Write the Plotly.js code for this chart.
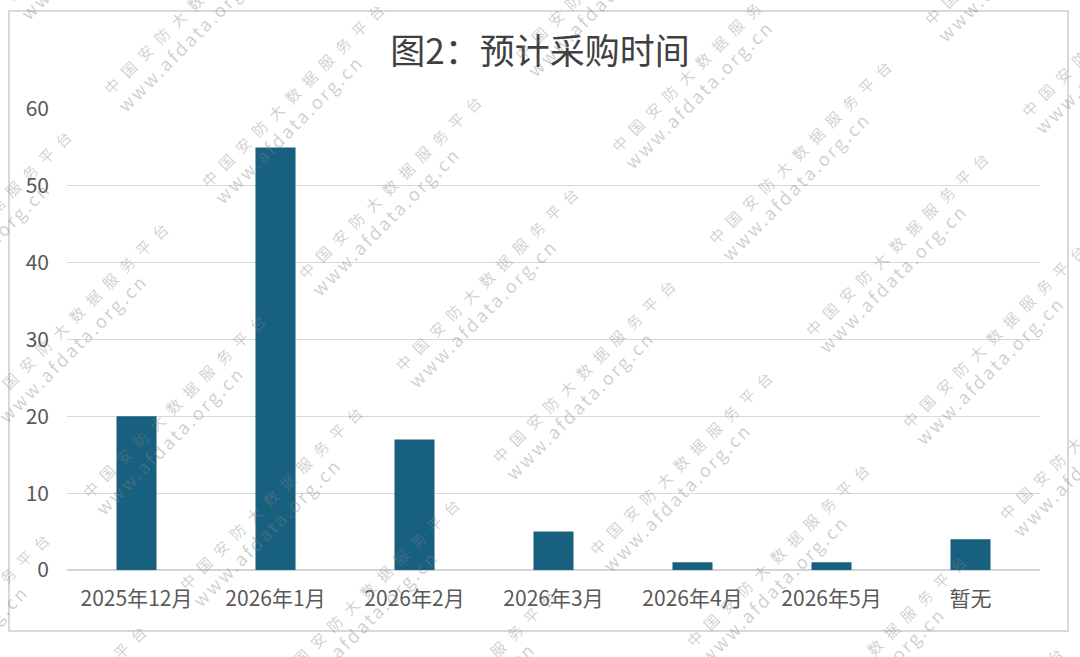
<!DOCTYPE html>
<html>
<head>
<meta charset="utf-8">
<script src="https://cdn.plot.ly/plotly-3.0.1.min.js"></script>
<style>
  html, body { margin: 0; padding: 0; background: #ffffff; }
  #chart { width: 1080px; height: 657px; }
  .annotation-text[style*="font-size: 15px"] { letter-spacing: 8.5px; }
  .annotation-text[style*="font-size: 18px"] { letter-spacing: 2.5px; }
</style>
</head>
<body>
<div id="chart"></div>
<script>
// ---- data ----
const categories = ['2025年12月', '2026年1月', '2026年2月', '2026年3月', '2026年4月', '2026年5月', '暂无'];
const values = [20, 55, 17, 5, 1, 1, 4];
const yTicks = [0, 10, 20, 30, 40, 50, 60];
const titleText = '图2：预计采购时间';
const watermarkLine1 = '中国安防大数据服务平台';
const watermarkLine2 = 'www.afdata.org.cn';

// ---- layout helpers ----
const W = 1080, H = 657;
const M = { l: 67, r: 40, t: 109, b: 87 };
const PW = W - M.l - M.r, PH = H - M.t - M.b;
const px2x = (px) => (px - M.l) / PW;
const py2y = (py) => (H - M.b - py) / PH;

const FONT = '"Noto Sans CJK SC", "Noto Sans", sans-serif';
const WM_COLOR = 'rgba(130,130,130,0.38)';

// watermark tiling (diagonal, -45deg)
const annotations = [];
for (let i = -6; i <= 4; i++) {
  for (let j = -3; j <= 3; j++) {
    const sx = 807 + i * 97 + j * 216;
    const sy = 333 + i * 92 - j * 219;
    const c1 = [sx + 92, sy - 92];
    const c2 = [sx + 85, sy - 55];
    if (c1[0] < -160 || c1[0] > 1240 || c1[1] < -160 || c1[1] > 820) continue;
    annotations.push({
      xref: 'paper', yref: 'paper', x: px2x(c1[0]), y: py2y(c1[1]),
      xanchor: 'center', yanchor: 'middle', showarrow: false,
      text: watermarkLine1, textangle: -45,
      font: { family: FONT, size: 15, color: WM_COLOR }
    });
    annotations.push({
      xref: 'paper', yref: 'paper', x: px2x(c2[0]), y: py2y(c2[1]),
      xanchor: 'center', yanchor: 'middle', showarrow: false,
      text: watermarkLine2, textangle: -45,
      font: { family: FONT, size: 18, color: WM_COLOR }
    });
  }
}

const trace = {
  type: 'bar',
  x: categories,
  y: values,
  marker: { color: '#17607F', line: { width: 0 } },
  hoverinfo: 'none'
};

const layout = {
  width: W, height: H,
  margin: M,
  paper_bgcolor: '#ffffff',
  plot_bgcolor: '#ffffff',
  showlegend: false,
  bargap: 0.712,
  title: {
    text: titleText,
    x: 0.5, xref: 'container', xanchor: 'center',
    y: 1 - 52 / H, yref: 'container', yanchor: 'middle',
    font: { family: FONT, size: 35, color: '#404040' }
  },
  xaxis: {
    type: 'category',
    showgrid: false, zeroline: false, showline: false,
    ticks: '',
    tickfont: { family: FONT, size: 21, color: '#595959' },
    ticklabelstandoff: 14,
    fixedrange: true
  },
  yaxis: {
    range: [0, 60],
    tickvals: yTicks,
    ticktext: yTicks.map(String),
    showgrid: true, gridcolor: '#d9d9d9', gridwidth: 1.3,
    zeroline: true, zerolinecolor: '#d4d4d4', zerolinewidth: 1.6,
    showline: false, ticks: '',
    tickfont: { family: FONT, size: 21, color: '#595959' },
    ticklabelstandoff: 17,
    fixedrange: true
  },
  shapes: [{
    type: 'rect', xref: 'paper', yref: 'paper',
    x0: px2x(9), x1: px2x(1068), y0: py2y(631), y1: py2y(11),
    line: { color: '#d9d9d9', width: 2 },
    fillcolor: 'rgba(0,0,0,0)', layer: 'below'
  }],
  annotations: annotations
};

Plotly.newPlot('chart', [trace], layout, { displayModeBar: false, staticPlot: true });
</script>
</body>
</html>
